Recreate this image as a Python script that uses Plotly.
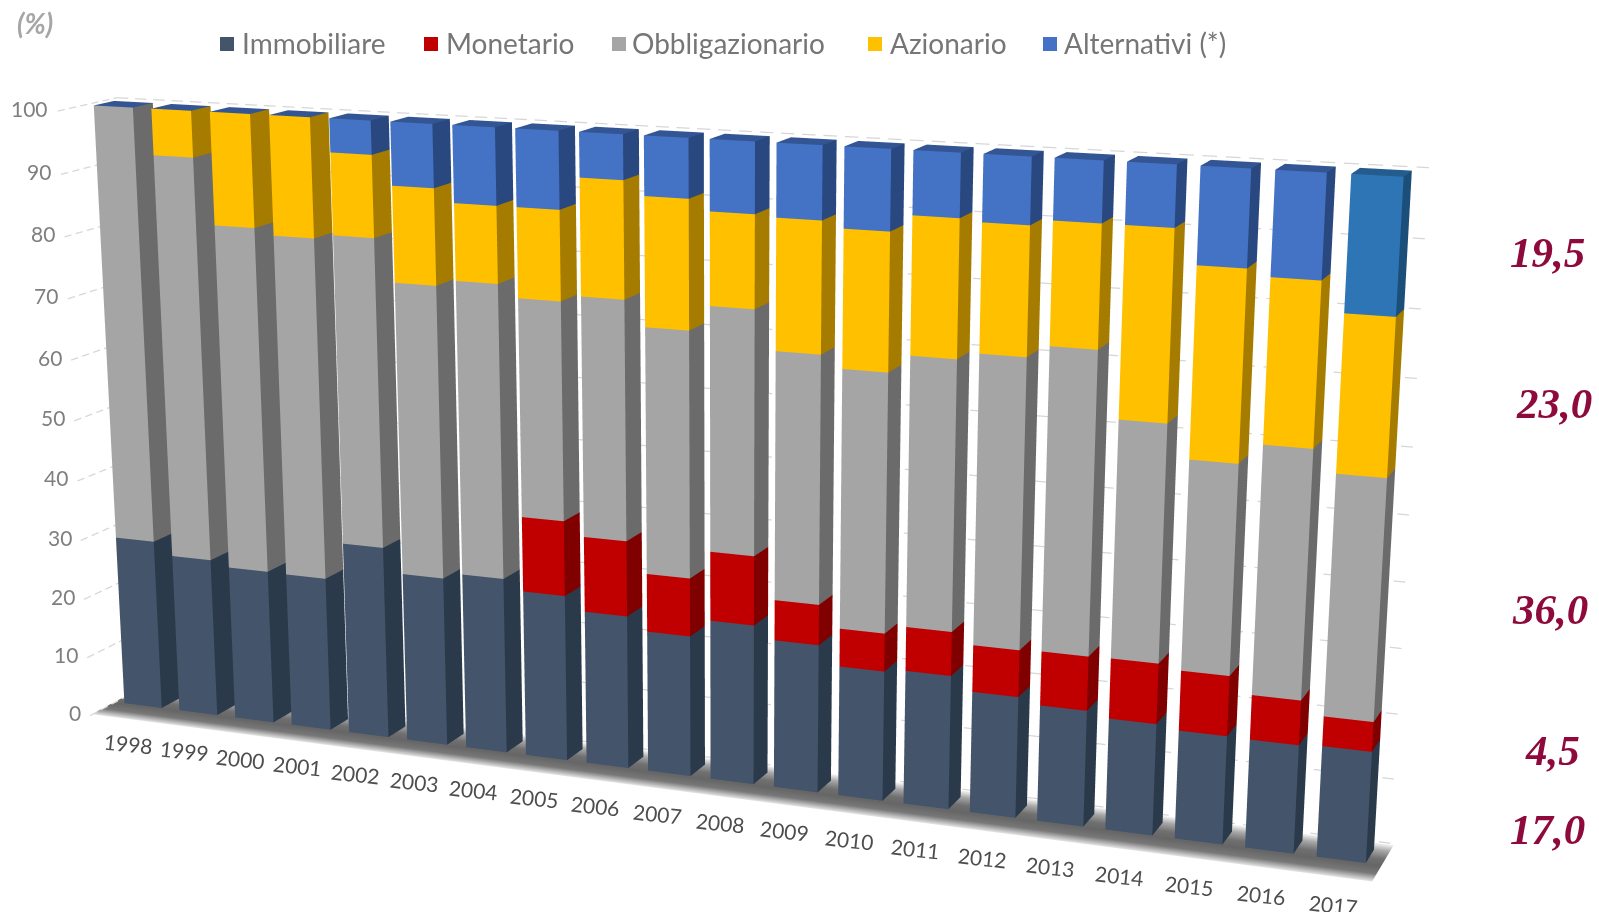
import numpy as np
import plotly.graph_objects as go

# ---------- data ----------
years = [1998, 1999, 2000, 2001, 2002, 2003, 2004, 2005, 2006, 2007,
         2008, 2009, 2010, 2011, 2012, 2013, 2014, 2015, 2016, 2017]
immobiliare = [28.7, 26.6, 25.7, 25.6, 31.8, 27.8, 28.8, 27.1, 24.9, 22.8,
               25.7, 23.7, 20.7, 21.2, 19.1, 18.2, 17.4, 16.8, 16.7, 17.0]
monetario = [0, 0, 0, 0, 0, 0, 0, 12.1, 12.1, 9.3,
             11.0, 6.4, 6.0, 6.9, 7.3, 8.4, 9.3, 9.2, 6.8, 4.5]
obbligazionario = [71.3, 66.0, 56.3, 55.4, 49.9, 47.1, 47.1, 34.7, 37.9, 38.8,
                   38.2, 38.7, 40.2, 41.6, 44.4, 46.1, 36.0, 31.7, 37.3, 36.0]
azionario = [0, 7.4, 18.0, 19.0, 13.0, 15.2, 12.1, 14.1, 18.2, 20.0,
             14.3, 20.1, 21.0, 20.8, 19.3, 18.3, 28.3, 28.2, 24.1, 23.0]
alternativi = [0, 0, 0, 0, 5.3, 9.9, 12.0, 12.0, 6.9, 9.1,
               10.8, 11.1, 12.1, 9.5, 9.9, 9.0, 9.0, 14.1, 15.1, 19.5]
series_names = ["Immobiliare", "Monetario", "Obbligazionario", "Azionario", "Alternativi (*)"]
z_ticks = [0, 10, 20, 30, 40, 50, 60, 70, 80, 90, 100]
last_year_labels = ["17,0", "4,5", "36,0", "23,0", "19,5"]

# ---------- styles ----------
front_colors = ["#44546A", "#C00000", "#A5A5A5", "#FFC000", "#4472C4"]
side_colors = ["#2B3A4B", "#800000", "#6B6B6B", "#A67C00", "#2A4880"]
top_colors = ["#44546A", "#C00000", "#A5A5A5", "#FFC000", "#335594"]
last_alt_front, last_alt_side, last_alt_top = "#2E75B6", "#1C4E7A", "#255C90"
BAR_GAP = 0.16
WALL_Y, GRID_Y, FLOOR_Y = 1.6, -1.3, -1.1
DASH_ON, DASH_PERIOD = 0.2, 0.32
W_PX, H_PX = 1599, 912

# ---------- chart box -> pixel projection, calibrated on the box corners ----------
calib = [((0.16, 0, 0), (125, 703)), ((0.84, 0, 0), (163, 708)), ((0.84, 1, 0), (179, 699)),
         ((0.16, 0, 100), (93, 105)), ((0.84, 0, 100), (132, 107)), ((0.84, 1, 100), (155, 102)),
         ((19.16, 0, 0), (1317, 857)), ((19.84, 0, 0), (1366, 862)), ((19.84, 1, 0), (1374, 850)),
         ((19.16, 0, 100), (1352, 174)), ((19.84, 0, 100), (1404, 177)), ((19.84, 1, 100), (1411, 170)),
         ((9.16, 0, 100), (643, 138)), ((9.16, 0, 0), (647, 770))]


def fit_projection(pairs):
    rows = []
    for (x, y, z), (u, v) in pairs:
        h = [x / 20, y, z / 100, 1]
        u, v = u / 1000, v / 1000
        rows.append(h + [0, 0, 0, 0] + [-u * c for c in h])
        rows.append([0, 0, 0, 0] + h + [-v * c for c in h])
    vec = np.linalg.svd(np.array(rows))[2][-1]
    return vec.reshape(3, 4)


P = fit_projection(calib)
EYE = 2.0
FOCAL = (H_PX / 2) / np.tan(np.pi / 8) / 1000
centre_w = P[2] @ np.array([0.5, 0.5, 0.5, 1])
P = P * EYE / centre_w
CX, CY = W_PX / 2000, H_PX / 2000


def world(x, y, z):
    h = np.array([np.asarray(x, float) / 20, np.asarray(y, float), np.asarray(z, float) / 100,
                  np.ones_like(np.asarray(x, float))])
    pu, pv, pw = P @ h
    return (pu - CX * pw) / FOCAL, pw - EYE, (CY * pw - pv) / FOCAL


fig = go.Figure()

# ---------- floor ----------
floor_y = [FLOOR_Y, -0.95, -0.55, 0.0, 0.5, 1.1, WALL_Y]
floor_c = ["#e6e6e6", "#c8c8c8", "#787878", "#666666", "#707070", "#a8a8a8", "#f8f8f8"]
fx, fy, fc, fi, fj, fk = [], [], [], [], [], []
for n, (yy, cc) in enumerate(zip(floor_y, floor_c)):
    fx += [-0.05, 20.05]
    fy += [yy, yy]
    fc += [cc, cc]
    if n:
        a = 2 * (n - 1)
        fi += [a, a + 1]
        fj += [a + 1, a + 3]
        fk += [a + 2, a + 2]
wx, wy, wz = world(fx, fy, np.full(len(fx), -0.2))
fig.add_trace(go.Mesh3d(x=wx, y=wy, z=wz, i=fi, j=fj, k=fk, vertexcolor=fc, flatshading=False,
                        lighting=dict(ambient=1, diffuse=0, specular=0, fresnel=0, roughness=1),
                        hoverinfo="skip", showscale=False))

# ---------- dashed gridlines (each dash is a short segment) ----------
for t in z_ticks:
    dx, dy = [], []
    for start in np.arange(GRID_Y, WALL_Y, DASH_PERIOD * 1.7):
        end = min(start + DASH_ON * 1.7, WALL_Y)
        dx.append((0, 0))
        dy.append((start, end))
    for start in np.arange(0, 20, DASH_PERIOD):
        dx.append((start, min(start + DASH_ON, 20)))
        dy.append((WALL_Y, WALL_Y))
    gx, gy, gz = [], [], []
    for (xa, xb), (ya, yb) in zip(dx, dy):
        a, b, c = world([xa, xb], [ya, yb], [t, t])
        gx += [float(a[0]), float(a[1]), None]
        gy += [float(b[0]), float(b[1]), None]
        gz += [float(c[0]), float(c[1]), None]
    fig.add_trace(go.Scatter3d(x=gx, y=gy, z=gz, mode="lines", connectgaps=False,
                               line=dict(color="#d6d6d6", width=2.5),
                               hoverinfo="skip", showlegend=False))

# ---------- stacked bars ----------
stack = [immobiliare, monetario, obbligazionario, azionario, alternativi]
base = np.zeros(len(years))
for s, values in enumerate(stack):
    vx, vy, vz, I, J, K, colors = [], [], [], [], [], [], []
    for b, val in enumerate(values):
        x0, x1 = b + BAR_GAP, b + 1 - BAR_GAP
        z0, z1 = base[b], base[b] + val
        if s == 4 and b == len(years) - 1:
            cf, cs, ct = last_alt_front, last_alt_side, last_alt_top
        else:
            cf, cs, ct = front_colors[s], side_colors[s], top_colors[s]
        n = len(vx)
        vx += [x0, x1, x1, x0, x0, x1, x1, x0]
        vy += [0, 0, 1, 1, 0, 0, 1, 1]
        vz += [z0, z0, z0, z0, z1, z1, z1, z1]
        faces = [(0, 1, 5, cf), (0, 5, 4, cf), (1, 2, 6, cs), (1, 6, 5, cs)]
        if s == 4:
            faces += [(4, 5, 6, ct), (4, 6, 7, ct)]
        for p, q, r, c in faces:
            I.append(n + p)
            J.append(n + q)
            K.append(n + r)
            colors.append(c)
    wx, wy, wz = world(vx, vy, vz)
    fig.add_trace(go.Mesh3d(x=wx, y=wy, z=wz, i=I, j=J, k=K, facecolor=colors, flatshading=True,
                            lighting=dict(ambient=1, diffuse=0, specular=0, fresnel=0, roughness=1),
                            hoverinfo="skip", showscale=False, name=series_names[s]))
    base = base + np.array(values)

# ---------- axis labels placed in the scene ----------
scene_notes = []
for b, yr in enumerate(years):
    wx, wy, wz = world([b * 1.012 + 0.2], [0], [-7])
    scene_notes.append(dict(x=float(wx[0]), y=float(wy[0]), z=float(wz[0]), text=str(yr), showarrow=False,
                            textangle=6, font=dict(family="Lato", size=21, color="#4d4d4d")))
for t in z_ticks:
    wx, wy, wz = world([-0.13], [GRID_Y], [t + 0.4])
    scene_notes.append(dict(x=float(wx[0]), y=float(wy[0]), z=float(wz[0]), text=str(t), showarrow=False,
                            xanchor="right", font=dict(family="Lato", size=21, color="#7f7f7f")))

axis = dict(visible=False, range=[-1.5, 1.5], autorange=False)
fig.update_layout(
    width=W_PX, height=H_PX, margin=dict(l=0, r=0, t=0, b=0), paper_bgcolor="white", showlegend=False,
    scene=dict(xaxis=axis, yaxis=axis, zaxis=axis, domain=dict(x=[0, 1], y=[0, 1]),
               aspectmode="manual", aspectratio=dict(x=3, y=3, z=3),
               camera=dict(eye=dict(x=0, y=-EYE, z=0), center=dict(x=0, y=0, z=0), up=dict(x=0, y=0, z=1),
                           projection=dict(type="perspective")),
               annotations=scene_notes),
)

# ---------- legend, unit and side labels ----------
legend_sq = [220, 424, 612, 868, 1043]
legend_tx = [240, 444, 630, 888, 1062]
for name, col, sq, tx in zip(series_names, front_colors, legend_sq, legend_tx):
    fig.add_shape(type="rect", xref="paper", yref="paper", x0=sq / W_PX, x1=(sq + 14) / W_PX,
                  y0=1 - 51 / H_PX, y1=1 - 37 / H_PX, fillcolor=col, line_width=0)
    fig.add_annotation(xref="paper", yref="paper", x=tx / W_PX, y=1 - 43 / H_PX, text=name, showarrow=False,
                       xanchor="left", yanchor="middle", font=dict(family="Lato", size=28, color="#767676"))
fig.add_annotation(xref="paper", yref="paper", x=35 / W_PX, y=1 - 23 / H_PX, text="<b><i>(%)</i></b>", showarrow=False,
                   xanchor="center", yanchor="middle", font=dict(family="Lato", size=28, color="#a6a6a6"))
side_pos = [(1547, 829), (1552, 750), (1550, 609), (1554, 403), (1547, 252)]
for lab, (px, py) in zip(last_year_labels, side_pos):
    fig.add_annotation(xref="paper", yref="paper", x=px / W_PX, y=1 - py / H_PX, text=f"<b><i>{lab}</i></b>",
                       xanchor="center", yanchor="middle", showarrow=False,
                       font=dict(family="Liberation Serif", size=43, color="#8F0A3C"))

fig.write_html("out.html", config={"displayModeBar": False},
               post_script="document.body.style.margin='0';")
